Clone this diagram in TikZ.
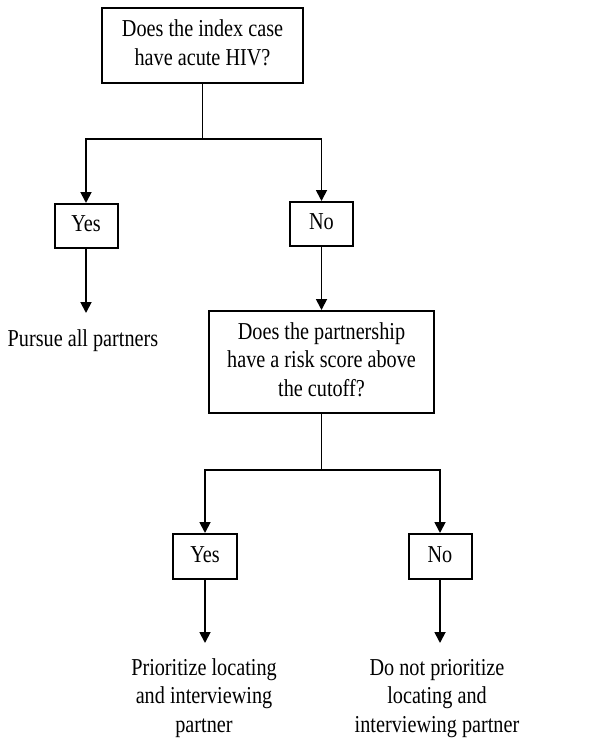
\documentclass[tikz,border=0pt]{standalone}
\usepackage{fontspec}
\setmainfont{Liberation Serif}
\usetikzlibrary{arrows.meta}
\newcommand{\tx}[1]{\scalebox{1}[1.2]{\fontsize{20.3}{24}\selectfont\begin{tabular}{@{}c@{}}#1\end{tabular}}}
\tikzset{
  box/.style={draw=black, line width=2bp, inner sep=0pt, fill=white},
  plain/.style={inner sep=0pt},
  link/.style={draw=black, line width=1.8bp},
  arr/.style={link, -{Triangle[length=11bp,width=11bp]}}
}
\begin{document}
\begin{tikzpicture}[x=1bp,y=-1bp]
\useasboundingbox[fill=white] (0,0) rectangle (605,745);
% boxes
\node[box, minimum width=201bp, minimum height=75bp] (top) at (202.5,45.5) {\tx{Does the index case\\have acute HIV?}};
\node[box, minimum width=63bp, minimum height=44bp] (yes1) at (86,226) {\tx{Yes}};
\node[box, minimum width=63bp, minimum height=44bp] (no1) at (321.5,224) {\tx{No}};
\node[box, minimum width=225bp, minimum height=102bp] (q2) at (321.5,362) {\tx{Does the partnership\\have a risk score above\\the cutoff?}};
\node[box, minimum width=64bp, minimum height=45bp] (yes2) at (205,556.5) {\tx{Yes}};
\node[box, minimum width=63bp, minimum height=45bp] (no2) at (440,556.5) {\tx{No}};
% outcome texts
\node[plain] (pursue) at (83,341) {\tx{Pursue all partners}};
\node[plain] (prio) at (204,698) {\tx{Prioritize locating\\and interviewing\\partner}};
\node[plain] (noprio) at (437,698) {\tx{Do not prioritize\\locating and\\interviewing partner}};
% junctions and arrow ends
\coordinate (j1) at (202.5,139);
\coordinate (j2) at (321.5,470);
\coordinate (e1) at (86,313);
\coordinate (e2) at (205,643);
\coordinate (e3) at (440,643);
% connectors
\draw[link] (top) -- (j1);
\draw[arr] (j1) -| (yes1);
\draw[arr] (j1) -| (no1);
\draw[arr] (yes1) -- (e1);
\draw[arr] (no1) -- (q2);
\draw[link] (q2) -- (j2);
\draw[arr] (j2) -| (yes2);
\draw[arr] (j2) -| (no2);
\draw[arr] (yes2) -- (e2);
\draw[arr] (no2) -- (e3);
\end{tikzpicture}
\end{document}
